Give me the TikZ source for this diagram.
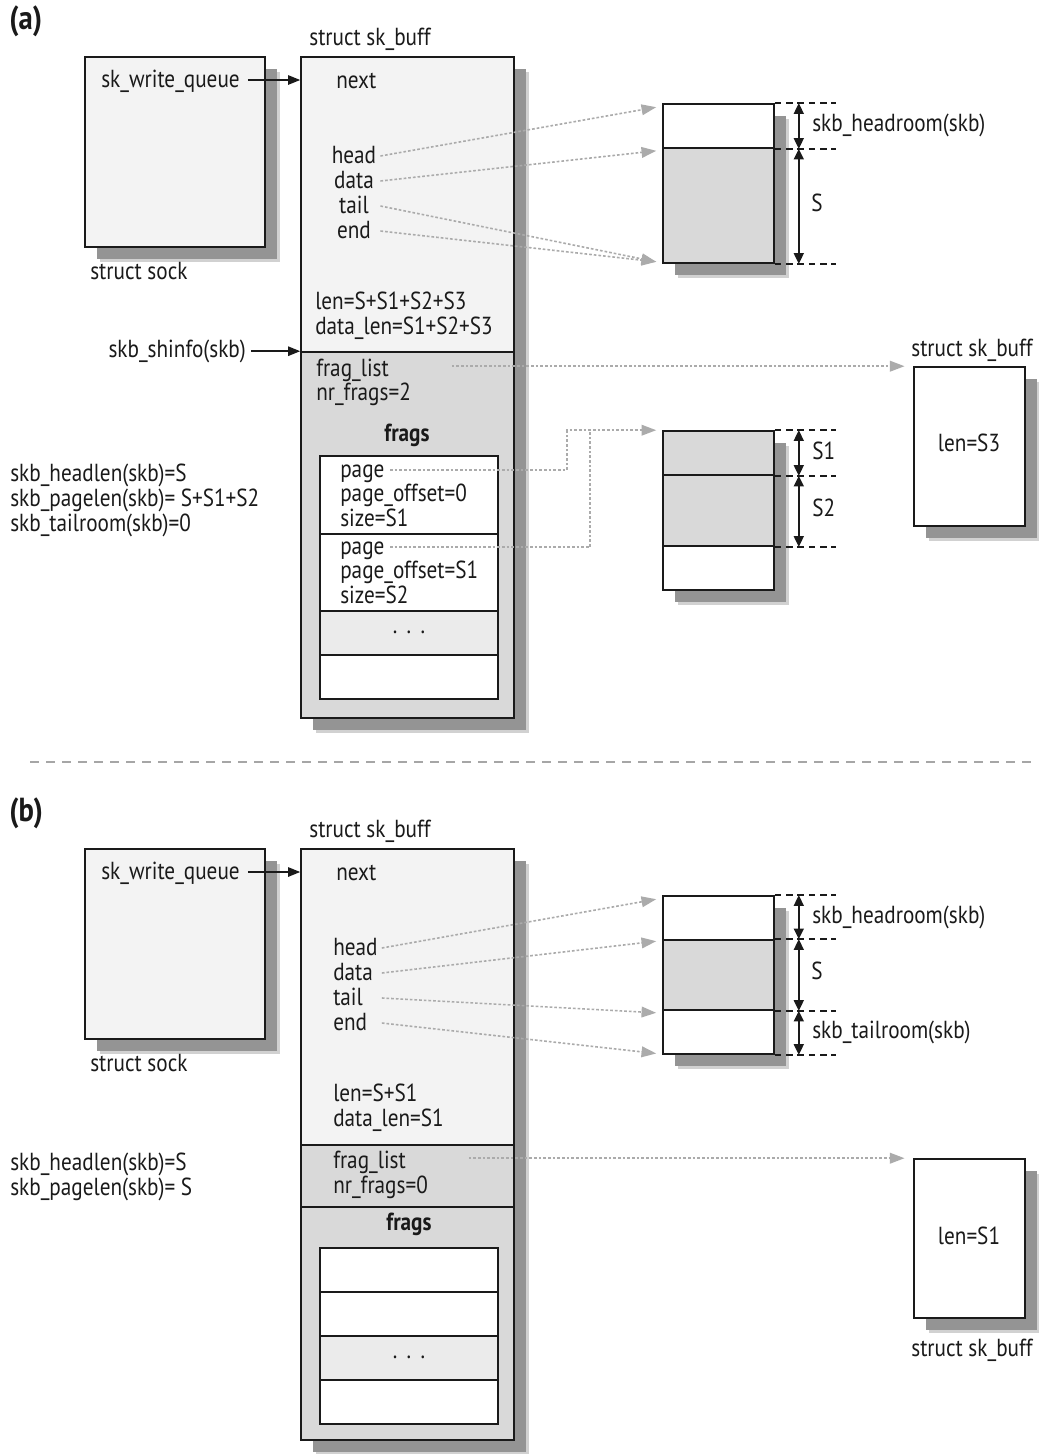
\documentclass[tikz,border=0pt]{standalone}
\usepackage{fontspec}
\setmainfont{PT Sans}[FakeStretch=0.86]
\usetikzlibrary{arrows.meta,fit,shadows,calc}
\definecolor{lightfill}{HTML}{F3F3F3}
\definecolor{grayfill}{HTML}{D9D9D9}
\definecolor{dotsfill}{HTML}{EBEBEB}
\definecolor{ptr}{HTML}{ABABAB}
\definecolor{ink}{HTML}{1A1A1A}
\begin{document}
\begin{tikzpicture}[x=0.75pt,y=-0.75pt,
  every node/.style={font=\fontsize{18.5}{21}\selectfont, inner sep=0pt, text height=1.28em, text depth=0.18em, text=ink},
  t/.style={anchor=west},
  hd/.style={font=\fontsize{25}{28}\bfseries\selectfont, anchor=west},
  bx/.style={draw=ink, line width=1.2pt, inner sep=0pt, text height=0pt, text depth=0pt},
  shadowed/.style={drop shadow={shadow xshift=11pt, shadow yshift=-11pt, fill=black!18, opacity=1},
                   drop shadow={shadow xshift=9pt, shadow yshift=-9pt, fill=black!42, opacity=1}},
  ptrline/.style={draw=ptr, line width=1.2pt, dash pattern=on 2pt off 1.5pt, -{Triangle[length=11pt,width=8pt,fill=ptr,color=ptr]}},
  ptrplain/.style={draw=ptr, line width=1.2pt, dash pattern=on 2pt off 1.5pt},
  blackarrow/.style={draw=ink, line width=1.1pt, -{Triangle[length=9pt,width=7pt]}},
  dimarrow/.style={draw=ink, line width=1.2pt, {Triangle[length=8pt,width=7.5pt]}-{Triangle[length=8pt,width=7.5pt]}},
  extline/.style={draw=ink, line width=1.2pt, dash pattern=on 5pt off 3.5pt}
]
\useasboundingbox[fill=white] (0,0) rectangle (1039,1454);

% ================= panel (a) =================
\node[hd] (labA) at (9,22) {(a)};

% struct sock
\node[bx, shadowed, fill=lightfill, fit={(85,57) (265,247)}] (sockA) {};
\node[t] (sockAl) at (90,272) {struct sock};
\node[t] (swqA) at (101,80) {sk\_write\_queue};

% sk_buff
\node (skbAl) at (370,38) {struct sk\_buff};
\node[bx, shadowed, fill=lightfill, fit={(301,57) (514,718)}] (skbA) {};
\node[bx, fill=grayfill, fit={(301,352) (514,718)}] (shA) {};
\node[t] (nextA) at (336,81) {next};
\node (headA) at (354,156) {head};
\node (dataA) at (354,181) {data};
\node (tailA) at (354,206) {tail};
\node (endA) at (354,231) {end};
\node[t] (lenA) at (315,302) {len=S+S1+S2+S3};
\node[t] (dlenA) at (315,327) {data\_len=S1+S2+S3};
\node[anchor=east] (shinfoA) at (246,350) {skb\_shinfo(skb)};
\node[t] (flA) at (316,369) {frag\_list};
\node[t] (nrA) at (316,393) {nr\_frags=2};
\node[font=\fontsize{18.5}{21}\bfseries\selectfont] (fragsA) at (407,434) {frags};
\node[bx, fill=white, fit={(320,456) (498,534)}] (fA1) {};
\node[bx, fill=white, fit={(320,534) (498,611)}] (fA2) {};
\node[bx, fill=dotsfill, fit={(320,611) (498,655)}] (fA3) {};
\node[bx, fill=white, fit={(320,655) (498,699)}] (fA4) {};
\node[t] (pg1A) at (340,470) {page};
\node[t] (po1A) at (340,494) {page\_offset=0};
\node[t] (sz1A) at (340,519) {size=S1};
\node[t] (pg2A) at (340,547) {page};
\node[t] (po2A) at (340,571) {page\_offset=S1};
\node[t] (sz2A) at (340,596) {size=S2};
\node (dotsA) at (409,626) {.\hspace{7pt}.\hspace{7pt}.};

\draw[blackarrow] ([xshift=6pt]swqA.east) -- (swqA.east -| skbA.west);
\draw[blackarrow] ([xshift=4pt]shinfoA.east |- shA.north west) -- (shA.north west);

% left notes
\node[t] (hlA) at (10,474) {skb\_headlen(skb)=S};
\node[t] (plA) at (10,499) {skb\_pagelen(skb)= S+S1+S2};
\node[t] (trA) at (10,524) {skb\_tailroom(skb)=0};

% data block
\node[bx, shadowed, fill=grayfill, fit={(663,104) (774,263)}] (dA) {};
\node[bx, fill=white, fit={(663,104) (774,148)}] (dAh) {};
\draw[extline] (dA.north east) -- ++(61,0);
\draw[extline] (dAh.south east) -- ++(61,0);
\draw[extline] (dA.south east) -- ++(61,0);
\draw[dimarrow] ([xshift=18pt]dA.north east) -- ([xshift=18pt]dAh.south east);
\draw[dimarrow] ([xshift=18pt]dAh.south east) -- ([xshift=18pt]dA.south east);
\node[t] (hrA) at (812,124) {skb\_headroom(skb)};
\node[t] (sA) at (811,204) {S};

\draw[ptrline] ([xshift=3pt]headA.east) -- ([xshift=-4.5pt,yshift=-3pt]dA.north west);
\draw[ptrline] ([xshift=3pt]dataA.east -| headA.east) -- ([xshift=-4.5pt,yshift=-1.5pt]dAh.south west);
\draw[ptrline] ([xshift=3pt]tailA.east -| headA.east) -- ([xshift=-4.5pt,yshift=1.5pt]dA.south west);
\draw[ptrline] ([xshift=3pt]endA.east -| headA.east) -- ([xshift=-4.5pt,yshift=1.5pt]dA.south west);

% second sk_buff (right)
\node[bx, shadowed, fill=white, fit={(914,367) (1025,526)}] (rA) {};
\node (rAlen) at (969,444) {len=S3};
\node (rAl) at (972,349) {struct sk\_buff};
\draw[ptrline] ([xshift=47pt]flA.east |- rA.north west) -- ([xshift=-6.5pt]rA.north west);

% frag pages block
\node[bx, shadowed, fill=white, fit={(663,431) (774,590)}] (pA) {};
\node[bx, fill=grayfill, fit={(663,431) (774,475)}] (pA1) {};
\node[bx, fill=grayfill, fit={(663,475) (774,546)}] (pA2) {};
\draw[extline] (pA.north east) -- ++(61,0);
\draw[extline] (pA1.south east) -- ++(61,0);
\draw[extline] (pA2.south east) -- ++(61,0);
\draw[dimarrow] ([xshift=18pt]pA.north east) -- ([xshift=18pt]pA1.south east);
\draw[dimarrow] ([xshift=18pt]pA1.south east) -- ([xshift=18pt]pA2.south east);
\node[t] (s1A) at (812,452) {S1};
\node[t] (s2A) at (812,509) {S2};

\draw[ptrline] ([xshift=4pt]pg1A.east) -| ($(pA.north west)+(-95,0)$) -- ([xshift=-4.5pt]pA.north west);
\draw[ptrplain] ([xshift=4pt]pg2A.east) -| ($(pA.north west)+(-72,0)$);

% divider
\draw[draw=black!35, line width=1.3pt, dash pattern=on 7pt off 5pt] (30,762) -- (1037,762);

% ================= panel (b) =================
\node[hd] (labB) at (9,814) {(b)};

\node[bx, shadowed, fill=lightfill, fit={(85,849) (265,1039)}] (sockB) {};
\node[t] (sockBl) at (90,1064) {struct sock};
\node[t] (swqB) at (101,872) {sk\_write\_queue};

\node (skbBl) at (370,830) {struct sk\_buff};
\node[bx, shadowed, fill=lightfill, fit={(301,849) (514,1440)}] (skbB) {};
\node[bx, fill=grayfill, fit={(301,1145) (514,1207)}] (flsB) {};
\node[bx, fill=grayfill, fit={(301,1207) (514,1440)}] (frsB) {};
\node[t] (nextB) at (336,873) {next};
\node[t] (headB) at (333,948) {head};
\node[t] (dataB) at (333,973) {data};
\node[t] (tailB) at (333,998) {tail};
\node[t] (endB) at (333,1023) {end};
\node[t] (lenB) at (333,1094) {len=S+S1};
\node[t] (dlenB) at (333,1119) {data\_len=S1};
\node[t] (flB) at (333,1161) {frag\_list};
\node[t] (nrB) at (333,1186) {nr\_frags=0};
\node[font=\fontsize{18.5}{21}\bfseries\selectfont] (fragsB) at (409,1223) {frags};
\node[bx, fill=white, fit={(320,1248) (498,1292)}] (fB1) {};
\node[bx, fill=white, fit={(320,1292) (498,1336)}] (fB2) {};
\node[bx, fill=dotsfill, fit={(320,1336) (498,1380)}] (fB3) {};
\node[bx, fill=white, fit={(320,1380) (498,1424)}] (fB4) {};
\node (dotsB) at (409,1351) {.\hspace{7pt}.\hspace{7pt}.};

\draw[blackarrow] ([xshift=6pt]swqB.east) -- (swqB.east -| skbB.west);

\node[t] (hlB) at (10,1163) {skb\_headlen(skb)=S};
\node[t] (plB) at (10,1188) {skb\_pagelen(skb)= S};

% data block b
\node[bx, shadowed, fill=white, fit={(663,896) (774,1054)}] (dB) {};
\node[bx, fill=grayfill, fit={(663,940) (774,1010)}] (dBm) {};
\draw[extline] (dB.north east) -- ++(61,0);
\draw[extline] (dBm.north east) -- ++(61,0);
\draw[extline] (dBm.south east) -- ++(61,0);
\draw[extline] (dB.south east) -- ++(61,0);
\draw[dimarrow] ([xshift=18pt]dB.north east) -- ([xshift=18pt]dBm.north east);
\draw[dimarrow] ([xshift=18pt]dBm.north east) -- ([xshift=18pt]dBm.south east);
\draw[dimarrow] ([xshift=18pt]dBm.south east) -- ([xshift=18pt]dB.south east);
\node[t] (hrB) at (812,916) {skb\_headroom(skb)};
\node[t] (sB) at (811,972) {S};
\node[t] (trB) at (812,1031) {skb\_tailroom(skb)};

\draw[ptrline] ([xshift=3pt]headB.east) -- ([xshift=-4.5pt,yshift=-3pt]dB.north west);
\draw[ptrline] ([xshift=3pt]dataB.east -| headB.east) -- ([xshift=-4.5pt,yshift=-1.5pt]dBm.north west);
\draw[ptrline] ([xshift=3pt]tailB.east -| headB.east) -- ([xshift=-4.5pt,yshift=-1.5pt]dBm.south west);
\draw[ptrline] ([xshift=3pt]endB.east -| headB.east) -- ([xshift=-4.5pt,yshift=1pt]dB.south west);

% right sk_buff b
\node[bx, shadowed, fill=white, fit={(914,1159) (1025,1318)}] (rB) {};
\node (rBlen) at (969,1237) {len=S1};
\node (rBl) at (972,1349) {struct sk\_buff};
\draw[ptrline] ([xshift=47pt]flB.east |- rB.north west) -- ([xshift=-6.5pt]rB.north west);

\end{tikzpicture}
\end{document}
